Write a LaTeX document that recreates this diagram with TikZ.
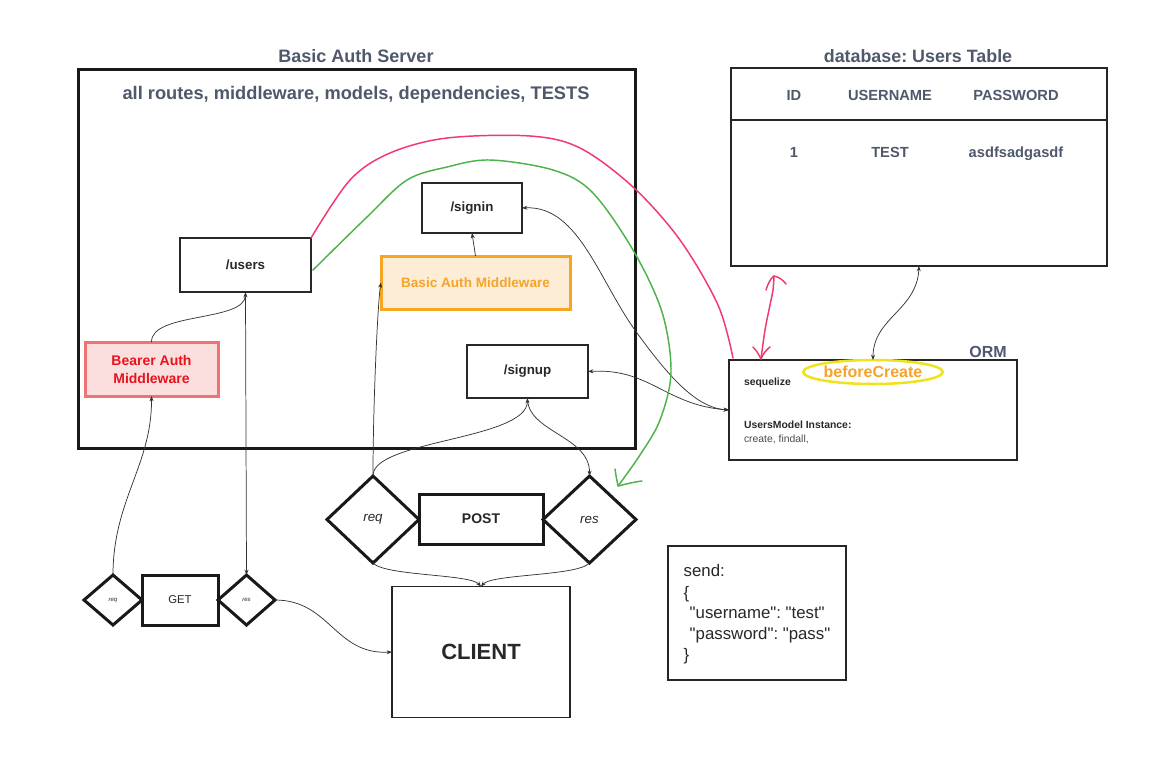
\documentclass[tikz,border=0pt]{standalone}
\usepackage{fontspec}
\setmainfont{Liberation Sans}
\newfontfamily\jsonfont{Liberation Sans}[Ligatures=TeXOff]
\usetikzlibrary{shapes.geometric,arrows.meta,calc}

\definecolor{titlegray}{RGB}{80,88,108}
\definecolor{inktext}{RGB}{40,40,44}
\definecolor{mwborder}{RGB}{246,166,35}
\definecolor{mwfill}{RGB}{253,237,214}
\definecolor{mwtext}{RGB}{245,164,42}
\definecolor{brborder}{RGB}{240,114,114}
\definecolor{brfill}{RGB}{251,223,223}
\definecolor{brtext}{RGB}{232,19,28}
\definecolor{pinkink}{RGB}{242,56,109}
\definecolor{greenink}{RGB}{77,179,74}
\definecolor{hookyellow}{RGB}{240,227,30}

\newcommand\fsz[1]{\fontsize{#1}{#1}\selectfont}
\frenchspacing

\begin{document}
\begin{tikzpicture}[x=0.75pt,y=-0.75pt,
  every node/.style={inner sep=0pt, outer sep=0pt},
  size/.style 2 args={minimum width=#1*0.75pt, minimum height=#2*0.75pt},
  title/.style={text=titlegray, font=\bfseries\fsz{13.5}},
  route/.style={draw=inktext, line width=1.1pt, fill=white, text=inktext, font=\bfseries\fsz{10}},
  heavy/.style={draw=black!90, line width=2.25pt, fill=white, text=inktext},
  gate/.style={heavy, diamond, font=\itshape\fsz{10}},
  link/.style={draw=black!80, line width=0.55pt, -{Stealth[length=4pt,width=3pt]}},
  twolink/.style={link, {Stealth[length=4pt,width=3pt]}-{Stealth[length=4pt,width=3pt]}},
  sketch/.style={line width=1.1pt, line cap=round, line join=round},
]
\useasboundingbox (0,0) rectangle (1165,758);
\fill[white] (0,0) rectangle (1165,758);

% ---------- server ----------
\node[title] (servertitle) at (356,56) {Basic Auth Server};
\node[draw=black!90, line width=2.25pt, size={557}{379}] (server) at (356.5,258.5) {};
\node[title, font=\bfseries\fsz{13.7}] (scope) at (356,95) {all routes, middleware, models, dependencies, TESTS};

\node[route, size={131}{54}] (users) at (245.5,265) {/users};
\node[route, size={100}{50}] (signin) at (472,208) {/signin};
\node[route, size={121}{53}] (signup) at (527.5,371.5) {/signup};
\node[draw=mwborder, fill=mwfill, line width=2.25pt, text=mwtext, font=\bfseries\fsz{10.2}, size={189}{53}] (basic) at (475.5,282.5) {Basic Auth Middleware};
\node[draw=brborder, fill=brfill, line width=2.25pt, text=brtext, font=\bfseries\fsz{10.5}, align=center, size={133}{54}] (bearer) at (151.5,369) {Bearer Auth\\[3pt]Middleware};

% ---------- database ----------
\node[title, font=\bfseries\fsz{13.4}] (dbtitle) at (918,56) {database: Users Table};
\node[draw=black!85, line width=1.1pt, size={376}{198}] (db) at (919,167) {};
\draw[black!85, line width=1.1pt] (db.west |- 0,120) coordinate (hl) -- (db.east |- 0,120) coordinate (hr);
\begin{scope}[every node/.style={anchor=base, text=titlegray, font=\bfseries\fsz{11}}]
  \node (hid) at (794,100) {ID};
  \node (hname) at (890,100) {USERNAME};
  \node (hpass) at (1016,100) {PASSWORD};
  \node (rid) at (794,157) {1};
  \node (rname) at (890,157) {TEST};
  \node (rpass) at (1016,157) {asdfsadgasdf};
\end{scope}

% ---------- ORM ----------
\node[title, font=\bfseries\fsz{12}] (ormtitle) at (988,352) {ORM};
\node[draw=black!85, line width=1.1pt, size={288}{100}] (orm) at (873,410) {};
\node[anchor=west, text=inktext, font=\bfseries\fsz{7.8}] (seq) at (744,383) {sequelize};
\node[anchor=west, text=inktext, font=\bfseries\fsz{7.8}] (model) at (744,425) {UsersModel Instance:};
\node[anchor=west, text=black!70, font=\fsz{7.8}] (methods) at (744,439) {create, findall,};
\node[ellipse, draw=hookyellow, line width=1.9pt, fill=white, size={120}{24}, text=mwtext, font=\bfseries\fsz{12}] (bc) at (873,372) {beforeCreate};

% ---------- POST group ----------
\node[gate, size={92}{87}] (req) at (373,519.5) {req};
\node[heavy, size={124}{50}, font=\bfseries\fsz{10.5}] (post) at (481,519) {POST};
\node[gate, size={93}{87}] (res) at (589.5,519.5) {res};

% ---------- GET group ----------
\node[gate, size={58}{50}, font=\itshape\fsz{4.5}] (getreq) at (113,600) {req};
\node[heavy, size={76}{50}, font=\fsz{8.5}] (get) at (180,600) {GET};
\node[gate, size={57}{50}, font=\itshape\fsz{4.5}] (getres) at (246.5,600) {res};

% ---------- client & payload ----------
\node[draw=black!85, line width=1.1pt, size={178}{131}, text=inktext, font=\bfseries\fsz{16.5}] (client) at (481,652) {CLIENT};
\node[draw=black!85, line width=1.1pt, size={178}{134}] (send) at (757,613) {};
\begin{scope}[every node/.style={anchor=base west, text=inktext, font=\jsonfont\fsz{12.6}}]
  \node (s1) at (679,576) {send:};
  \node (s2) at (679,598) {\{};
  \node (s3) at (685,618) {"username": "test"};
  \node (s4) at (685,639) {"password": "pass"};
  \node (s5) at (679,660) {\}};
\end{scope}

% ---------- connectors ----------
\draw[link] (bearer.north) .. controls (151,312) and (245,322) .. (users.south);
\draw[link] (users.south) -- (getres.north);
\draw[link] (getreq.north) .. controls (113,500) and (152,465) .. (bearer.south);
\draw[link] (getres.east) .. controls (330,600) and (335,655) .. (client.west);
\draw[link] (req.south) .. controls (385,576) and (470,574) .. (client.north);
\draw[link] (res.south) .. controls (578,576) and (492,574) .. (client.north);
\draw[link] (req.north) .. controls (373,400) and (378,300) .. (basic.west);
\draw[link] (req.north) .. controls (372,440) and (527,440) .. (signup.south);
\draw[link] (signup.south) .. controls (527,432) and (590,436) .. (res.north);
\draw[link] (basic.north) -- (signin.south);
\draw[twolink] (signin.east) .. controls (580,205) and (600,285) .. (640,337) .. controls (675,385) and (700,408) .. (orm.west);
\draw[twolink] (signup.east) .. controls (650,368) and (665,405) .. (orm.west);
\draw[twolink] (db.south) .. controls (917,310) and (873,318) .. (bc.north);

% hand-drawn strokes
\draw[sketch, pinkink] plot[smooth, tension=0.55] coordinates {(users.north east) (350,180) (390,153) (447,138) (530,136) (580,148) (633,187) (680,240) (718,305) (733,358)};
\draw[sketch, pinkink] plot[smooth, tension=0.6] coordinates {(761,359) (765,330) (770,305) (773,290) (774,276)};
\draw[sketch, pinkink] (753,347) .. controls (757,351) and (759,355) .. (761,359) .. controls (763,354) and (766,350) .. (770,347);
\draw[sketch, pinkink] (766,290) .. controls (768,283) and (771,278) .. (774,276) .. controls (779,277) and (783,280) .. (786,284);
\draw[sketch, greenink] plot[smooth, tension=0.55] coordinates {($(users.east)+(2,5)$) (367,217) (407,180) (447,167) (490,160) (553,170) (592,192) (633,250) (662,312) (671,372) (660,420) (640,455) (618,486)};
\draw[sketch, greenink] (615,469) .. controls (616,476) and (617,481) .. (618,486) .. controls (626,484) and (634,482) .. (642,481);
\end{tikzpicture}
\end{document}
